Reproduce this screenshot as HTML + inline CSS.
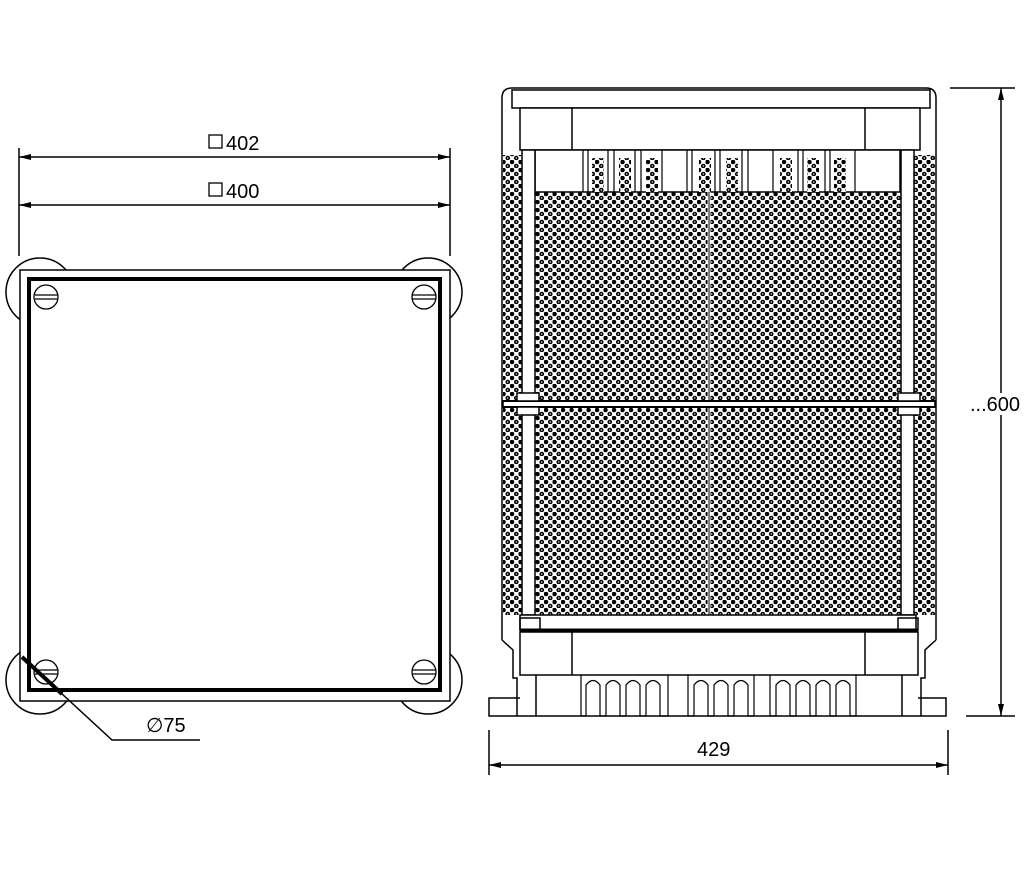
<!DOCTYPE html>
<html><head><meta charset="utf-8"><style>body{margin:0;background:#fff}svg{display:block}</style></head><body>
<svg width="1033" height="879" viewBox="0 0 1033 879" xmlns="http://www.w3.org/2000/svg" font-family="Liberation Sans, sans-serif">
<defs>
<pattern id="m" width="8.5" height="8" patternUnits="userSpaceOnUse">
<rect width="8.5" height="8" fill="#fff"/>
<circle cx="2" cy="2" r="2.3" fill="#000"/>
<circle cx="6.25" cy="6" r="2.3" fill="#000"/>
<circle cx="6.25" cy="6" r="0.7" fill="#fff"/>
</pattern>
<marker id="a" markerWidth="12" markerHeight="6" refX="12" refY="3" orient="auto" markerUnits="userSpaceOnUse"><path d="M0,0L12,3L0,6z" fill="#000"/></marker>
<marker id="b" markerWidth="12" markerHeight="6" refX="0" refY="3" orient="auto" markerUnits="userSpaceOnUse"><path d="M12,0L0,3L12,6z" fill="#000"/></marker>
</defs>
<g stroke="#000" fill="none" stroke-width="1.5">
<!-- LEFT VIEW -->
<line x1="19" y1="148" x2="19" y2="256"/><line x1="450" y1="148" x2="450" y2="256"/>
<line x1="19" y1="157" x2="450" y2="157" marker-start="url(#b)" marker-end="url(#a)"/>
<line x1="19" y1="205" x2="450" y2="205" marker-start="url(#b)" marker-end="url(#a)"/>
<circle cx="40" cy="292" r="34"/><circle cx="428" cy="292" r="34"/>
<circle cx="40" cy="680" r="34"/><circle cx="428" cy="680" r="34"/>
<rect x="20" y="270" width="430" height="431" fill="#fff"/>
<rect x="29" y="279" width="411" height="411" stroke-width="4"/>
<g stroke-width="1.3">
<circle cx="46" cy="297" r="12"/><line x1="35" y1="295" x2="58" y2="295"/><line x1="35" y1="299" x2="58" y2="299"/>
<circle cx="424" cy="297" r="12"/><line x1="412" y1="295" x2="436" y2="295"/><line x1="412" y1="299" x2="436" y2="299"/>
<circle cx="46" cy="672" r="12"/><line x1="35" y1="670" x2="58" y2="670"/><line x1="35" y1="674" x2="58" y2="674"/>
<circle cx="424" cy="672" r="12"/><line x1="412" y1="670" x2="436" y2="670"/><line x1="412" y1="674" x2="436" y2="674"/>
</g>
<path d="M22,657 L112,740 L200,740"/>
<line x1="22" y1="657" x2="62" y2="694" stroke-width="4"/>
<!-- RIGHT VIEW -->
<rect x="503" y="155" width="432" height="460" fill="url(#m)" stroke="none"/>
<path d="M502,640 V98 Q502,88 512,88 H926 Q936,88 936,98 V640"/>
<rect x="512" y="90" width="418" height="18"/>
<rect x="520" y="108" width="400" height="42" fill="#fff"/>
<line x1="572" y1="108" x2="572" y2="150"/><line x1="865" y1="108" x2="865" y2="150"/>
<rect x="535" y="150" width="365" height="42" fill="#fff"/>
<g stroke-width="1.2">
<path d="M583,150 V192 M588,150 V192 M608,150 V192 M614,150 V192 M635,150 V192 M641,150 V192 M662,150 V192 M687,150 V192 M692,150 V192 M715,150 V192 M720,150 V192 M742,150 V192 M748,150 V192 M773,150 V192 M798,150 V192 M803,150 V192 M825,150 V192 M830,150 V192 M855,150 V192"/>
</g>
<rect x="592" y="158" width="12" height="34" fill="url(#m)" stroke="none"/>
<rect x="619" y="158" width="12" height="34" fill="url(#m)" stroke="none"/>
<rect x="646" y="158" width="12" height="34" fill="url(#m)" stroke="none"/>
<rect x="699" y="158" width="12" height="34" fill="url(#m)" stroke="none"/>
<rect x="726" y="158" width="12" height="34" fill="url(#m)" stroke="none"/>
<rect x="780" y="158" width="12" height="34" fill="url(#m)" stroke="none"/>
<rect x="807" y="158" width="12" height="34" fill="url(#m)" stroke="none"/>
<rect x="834" y="158" width="12" height="34" fill="url(#m)" stroke="none"/>
<rect x="522" y="150" width="13" height="465" fill="#fff"/>
<rect x="901" y="150" width="13" height="465" fill="#fff"/>
<line x1="709" y1="192" x2="709" y2="615" stroke="#fff" stroke-width="3"/>
<line x1="709" y1="192" x2="709" y2="615" stroke-width="1"/>
<rect x="503" y="401" width="432" height="6" fill="#fff"/>
<line x1="503" y1="401" x2="935" y2="401" stroke-width="2"/><line x1="503" y1="407" x2="935" y2="407" stroke-width="2"/>
<rect x="517" y="393" width="22" height="8" fill="#fff"/><rect x="517" y="407" width="22" height="8" fill="#fff"/>
<rect x="898" y="393" width="22" height="8" fill="#fff"/><rect x="898" y="407" width="22" height="8" fill="#fff"/>
<rect x="520" y="615" width="396" height="15" fill="#fff"/>
<rect x="520" y="618" width="20" height="12"/><rect x="898" y="618" width="20" height="12"/>
<line x1="520" y1="630" x2="918" y2="630" stroke-width="3"/>
<path d="M502,640 L513,650 V678 H517 V716 H489 V698 H520"/>
<path d="M936,640 L925,650 V678 H921 V716 H946 V698 H918"/>
<rect x="520" y="632" width="398" height="43"/>
<line x1="572" y1="632" x2="572" y2="675"/><line x1="865" y1="632" x2="865" y2="675"/>
<line x1="517" y1="716" x2="921" y2="716"/>
<line x1="536" y1="675" x2="536" y2="716"/><line x1="902" y1="675" x2="902" y2="716"/>
<g stroke-width="1.2">
<path d="M581,675 V716 H586 V685 Q593,676 600,685 V716 H606 V685 Q613,676 620,685 V716 H626 V685 Q633,676 640,685 V716 H646 V685 Q653,676 660,685 V716 H668 V675"/>
<path d="M688,675 V716 H694 V685 Q701,676 708,685 V716 H714 V685 Q721,676 728,685 V716 H734 V685 Q741,676 748,685 V716 H754 V675"/>
<path d="M770,675 V716 H776 V685 Q783,676 790,685 V716 H796 V685 Q803,676 810,685 V716 H816 V685 Q823,676 830,685 V716 H836 V685 Q843,676 850,685 V716 H856 V675"/>
</g>
<!-- dims right -->
<line x1="489" y1="730" x2="489" y2="775"/><line x1="948" y1="730" x2="948" y2="775"/>
<line x1="489" y1="765" x2="948" y2="765" marker-start="url(#b)" marker-end="url(#a)"/>
<line x1="950" y1="88" x2="1015" y2="88"/><line x1="966" y1="716" x2="1015" y2="716"/>
<line x1="1001" y1="88" x2="1001" y2="716" marker-start="url(#b)" marker-end="url(#a)"/>
</g>
<g font-size="20" fill="#000">
<rect x="209" y="135" width="13" height="13" fill="none" stroke="#000" stroke-width="1.3"/>
<text x="226" y="150">402</text>
<rect x="209" y="183" width="13" height="13" fill="none" stroke="#000" stroke-width="1.3"/>
<text x="226" y="198">400</text>
<text x="146" y="732">∅75</text>
<text x="697" y="756">429</text>
<rect x="968" y="393" width="40" height="22" fill="#fff"/>
<text x="970" y="411">...600</text>
</g>
</svg>
</body></html>
